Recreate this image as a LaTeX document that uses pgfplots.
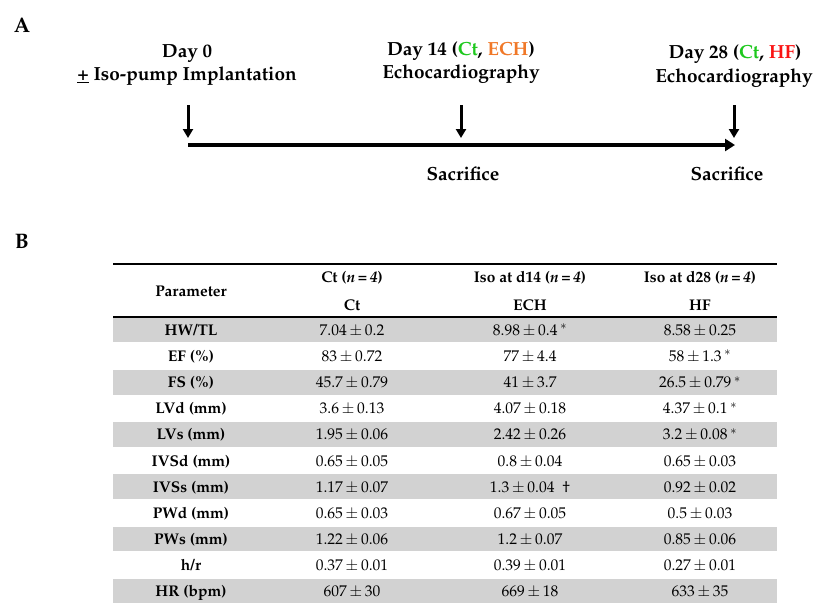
\documentclass[border=0pt]{standalone}
\usepackage[T1]{fontenc}
\usepackage{mathpazo}
\usepackage{pgfplots}
\pgfplotsset{compat=1.18}
\usetikzlibrary{arrows.meta}
\definecolor{ctgreen}{RGB}{30,200,30}
\definecolor{echorange}{RGB}{240,120,40}
\definecolor{hfred}{RGB}{250,20,20}
\definecolor{band}{RGB}{210,210,210}
\newcommand{\pmv}{\,$\pm$\,}
\begin{document}
\begin{tikzpicture}
\begin{axis}[width=813pt,height=603pt,scale only axis,
  xmin=0,xmax=813,ymin=0,ymax=603,y dir=reverse,
  hide axis, clip=false]
% ---- Panel A: timeline ----
\addplot[black,line width=3pt,-{Triangle[width=10pt,length=9pt]}] coordinates {(188,105) (188,138)};
\addplot[black,line width=3pt,-{Triangle[width=10pt,length=9pt]}] coordinates {(461,105) (461,138)};
\addplot[black,line width=3pt,-{Triangle[width=10pt,length=9pt]}] coordinates {(734,105) (734,138)};
\addplot[black,line width=4pt,-{Triangle[width=12pt,length=10pt]}] coordinates {(188,145) (735,145)};
\node[font=\fontsize{21}{24}\selectfont\bfseries,anchor=base] at (axis cs:22,32) {A};
\node[font=\fontsize{19}{22}\selectfont\bfseries,anchor=base] at (axis cs:187,57) {Day 0};
\node[font=\fontsize{19}{22}\selectfont\bfseries,anchor=base] at (axis cs:187,80) {\underline{+} Iso-pump Implantation};
\node[font=\fontsize{19}{22}\selectfont\bfseries,anchor=base] at (axis cs:461,55) {Day 14 (\textcolor{ctgreen}{Ct}, \textcolor{echorange}{ECH})};
\node[font=\fontsize{19}{22}\selectfont\bfseries,anchor=base] at (axis cs:461,78) {Echocardiography};
\node[font=\fontsize{19}{22}\selectfont\bfseries,anchor=base] at (axis cs:735,58) {Day 28 (\textcolor{ctgreen}{Ct}, \textcolor{hfred}{HF})};
\node[font=\fontsize{19}{22}\selectfont\bfseries,anchor=base] at (axis cs:734,82) {Echocardiography};
\node[font=\fontsize{19}{22}\selectfont\bfseries,anchor=base] at (axis cs:463,180) {Sacrifice};
\node[font=\fontsize{19}{22}\selectfont\bfseries,anchor=base] at (axis cs:727,180) {Sacrifice};
% ---- Panel B: table ----
\node[font=\fontsize{21}{24}\selectfont\bfseries,anchor=base] at (axis cs:22,248) {B};
% shaded bands (rows 0,2,4,6,8,10), row height 26.1 from y=317
\addplot[band,line width=24.6pt] coordinates {(113,330.0) (777,330.0)};
\addplot[band,line width=24.6pt] coordinates {(113,382.2) (777,382.2)};
\addplot[band,line width=24.6pt] coordinates {(113,434.4) (777,434.4)};
\addplot[band,line width=24.6pt] coordinates {(113,486.6) (777,486.6)};
\addplot[band,line width=24.6pt] coordinates {(113,538.8) (777,538.8)};
\addplot[band,line width=24.6pt] coordinates {(113,591.0) (777,591.0)};
% rules
\addplot[black,line width=1.5pt] coordinates {(113,264) (777,264)};
\addplot[black,line width=1.5pt] coordinates {(113,317) (777,317)};
% header
\begin{scope}[every node/.style={font=\fontsize{15.5}{18}\selectfont\bfseries,anchor=base}]
\node at (axis cs:191,296) {Parameter};
\node at (axis cs:352,282) {Ct (\textit{n}\,=\,\textit{4})};
\node at (axis cs:530,282) {Iso at d14 (\textit{n}\,=\,\textit{4})};
\node at (axis cs:700,282) {Iso at d28 (\textit{n}\,=\,\textit{4})};
\node at (axis cs:352,310) {Ct};
\node at (axis cs:530,310) {ECH};
\node at (axis cs:700,310) {HF};
\node at (axis cs:191,335.5) {HW/TL};
\node at (axis cs:191,361.6) {EF (\%)};
\node at (axis cs:191,387.7) {FS (\%)};
\node at (axis cs:191,413.8) {LVd (mm)};
\node at (axis cs:191,439.9) {LVs (mm)};
\node at (axis cs:191,466.0) {IVSd (mm)};
\node at (axis cs:191,492.1) {IVSs (mm)};
\node at (axis cs:191,518.2) {PWd (mm)};
\node at (axis cs:191,544.3) {PWs (mm)};
\node at (axis cs:191,570.4) {h/r};
\node at (axis cs:191,596.5) {HR (bpm)};
\end{scope}
\begin{scope}[every node/.style={font=\fontsize{15.5}{18}\selectfont,anchor=base}]
\node at (axis cs:352,335.5) {7.04\pmv0.2};
\node at (axis cs:530,335.5) {8.98\pmv0.4\,$^{*}$};
\node at (axis cs:700,335.5) {8.58\pmv0.25};
\node at (axis cs:352,361.6) {83\pmv0.72};
\node at (axis cs:530,361.6) {77\pmv4.4};
\node at (axis cs:700,361.6) {58\pmv1.3\,$^{*}$};
\node at (axis cs:352,387.7) {45.7\pmv0.79};
\node at (axis cs:530,387.7) {41\pmv3.7};
\node at (axis cs:700,387.7) {26.5\pmv0.79\,$^{*}$};
\node at (axis cs:352,413.8) {3.6\pmv0.13};
\node at (axis cs:530,413.8) {4.07\pmv0.18};
\node at (axis cs:700,413.8) {4.37\pmv0.1\,$^{*}$};
\node at (axis cs:352,439.9) {1.95\pmv0.06};
\node at (axis cs:530,439.9) {2.42\pmv0.26};
\node at (axis cs:700,439.9) {3.2\pmv0.08\,$^{*}$};
\node at (axis cs:352,466.0) {0.65\pmv0.05};
\node at (axis cs:530,466.0) {0.8\pmv0.04};
\node at (axis cs:700,466.0) {0.65\pmv0.03};
\node at (axis cs:352,492.1) {1.17\pmv0.07};
\node at (axis cs:530,492.1) {1.3\pmv0.04 \ \dag};
\node at (axis cs:700,492.1) {0.92\pmv0.02};
\node at (axis cs:352,518.2) {0.65\pmv0.03};
\node at (axis cs:530,518.2) {0.67\pmv0.05};
\node at (axis cs:700,518.2) {0.5\pmv0.03};
\node at (axis cs:352,544.3) {1.22\pmv0.06};
\node at (axis cs:530,544.3) {1.2\pmv0.07};
\node at (axis cs:700,544.3) {0.85\pmv0.06};
\node at (axis cs:352,570.4) {0.37\pmv0.01};
\node at (axis cs:530,570.4) {0.39\pmv0.01};
\node at (axis cs:700,570.4) {0.27\pmv0.01};
\node at (axis cs:352,596.5) {607\pmv30};
\node at (axis cs:530,596.5) {669\pmv18};
\node at (axis cs:700,596.5) {633\pmv35};
\end{scope}
\end{axis}
\pgfresetboundingbox
\path[use as bounding box] (current axis.south west) rectangle (current axis.north east);
\end{tikzpicture}
\end{document}
